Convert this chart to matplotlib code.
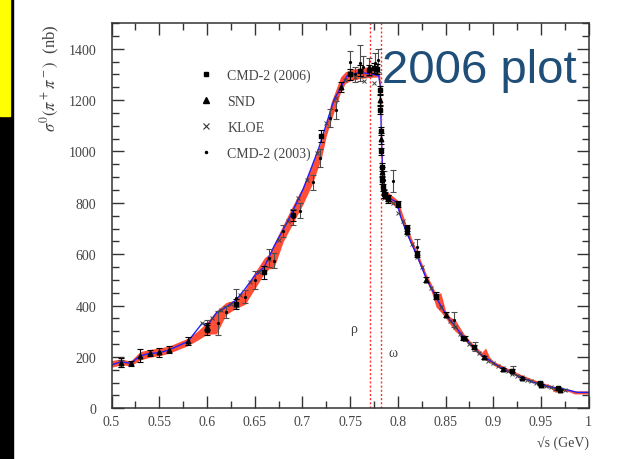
import matplotlib
matplotlib.use('Agg')
import matplotlib.pyplot as plt
from matplotlib.patches import Rectangle
from matplotlib.lines import Line2D
from matplotlib.ticker import MultipleLocator, FuncFormatter

# ---------------- data ----------------

# model band (red): sqrt(s) in GeV, lower / upper edge in nb
band_x = [0.50, 0.51, 0.52, 0.53, 0.54, 0.55, 0.56, 0.58, 0.59, 0.60,
          0.61, 0.62, 0.63, 0.64, 0.65, 0.66, 0.665, 0.67, 0.68, 0.69,
          0.70, 0.71, 0.72, 0.725, 0.73, 0.74, 0.745, 0.75, 0.76, 0.77,
          0.78, 0.7815, 0.783, 0.785, 0.79, 0.80, 0.81, 0.82, 0.83, 0.835,
          0.84, 0.845, 0.85, 0.855, 0.86, 0.865, 0.87, 0.88, 0.888, 0.892,
          0.896, 0.90, 0.91, 0.92, 0.93, 0.94, 0.95, 0.96, 0.965, 0.97,
          0.98, 0.985, 1.00]
band_lo = [160, 169, 166, 188, 199, 205, 214, 244, 265, 288,
           290, 365, 388, 405, 465, 525, 543, 545, 650, 720,
           790, 870, 975, 1060, 1120, 1230, 1265, 1275, 1284, 1288,
           1290, 1230, 980, 815, 810, 775, 670, 585, 495, 455,
           395, 375, 352, 325, 300, 285, 265, 225, 200, 188,
           180, 168, 150, 133, 118, 103, 90, 78, 62, 70,
           64, 56, 56]
band_hi = [186, 192, 184, 221, 229, 235, 242, 273, 300, 335,
           380, 412, 422, 462, 528, 585, 600, 640, 715, 790,
           860, 950, 1040, 1110, 1190, 1290, 1310, 1318, 1325, 1330,
           1332, 1280, 1040, 850, 840, 810, 700, 612, 520, 485,
           445, 450, 380, 355, 345, 315, 285, 245, 218, 235,
           200, 184, 165, 147, 130, 115, 102, 90, 84, 80,
           74, 68, 68]

# fit curve (blue)
fit_x = [0.500, 0.510, 0.520, 0.530, 0.540, 0.550, 0.560, 0.580, 0.595, 0.600,
         0.610, 0.620, 0.630, 0.640, 0.650, 0.660, 0.670, 0.687, 0.701, 0.717,
         0.733, 0.747, 0.760, 0.774, 0.780, 0.7814, 0.7832, 0.785, 0.799, 0.803,
         0.809, 0.820, 0.830, 0.841, 0.851, 0.869, 0.886, 0.907, 0.925, 0.942,
         0.960, 0.974, 0.988, 1.000]
fit_y = [169, 181, 175, 204, 214, 216, 227, 260, 331, 320,
         372, 394, 420, 465, 517, 550, 628, 745, 855, 1011,
         1200, 1295, 1308, 1300, 1295, 1258, 1011, 829, 803, 745,
         686, 595, 504, 426, 361, 277, 212, 160, 127, 101,
         82, 75, 62, 62]

# CMD-2 (2006)
cmd06_x = [0.600, 0.630, 0.660, 0.690, 0.720, 0.750, 0.760, 0.770, 0.775, 0.778,
           0.7812, 0.7818, 0.7822, 0.7826, 0.7830, 0.7835, 0.784, 0.785, 0.787, 0.790,
           0.800, 0.8094, 0.820, 0.840, 0.8688, 0.880, 0.9195, 0.949, 0.968]
cmd06_y = [305, 407, 530, 751, 1060, 1300, 1315, 1318, 1325, 1320,
           1240, 1160, 1080, 1000, 940, 890, 860, 835, 830, 820,
           797, 703, 602, 439, 273, 238, 147, 97, 78]
cmd06_err = [20, 20, 25, 20, 25, 20, 20, 20, 20, 20,
             15, 15, 15, 15, 15, 15, 15, 15, 12, 12,
             12, 12, 12, 12, 8, 8, 6, 5, 5]

# SND
snd_x = [0.510, 0.520, 0.530, 0.540, 0.550, 0.560, 0.580, 0.600, 0.740, 0.7815,
         0.7825, 0.7835, 0.790, 0.810, 0.830, 0.850, 0.870, 0.890, 0.910, 0.930,
         0.950, 0.970]
snd_y = [178, 175, 205, 215, 218, 228, 262, 318, 1250, 1200,
         1050, 920, 815, 690, 500, 365, 272, 198, 152, 118,
         92, 73]
snd_err = [17, 10, 26, 12, 17, 13, 16, 15, 20, 20,
           20, 20, 15, 12, 10, 10, 8, 6, 5, 4,
           4, 3]

# KLOE
kloe_x = [0.595, 0.600, 0.605, 0.615, 0.625, 0.635, 0.645, 0.655, 0.665, 0.675,
          0.685, 0.695, 0.705, 0.715, 0.725, 0.735, 0.745, 0.755, 0.765, 0.775,
          0.785, 0.790, 0.795, 0.800, 0.805, 0.810, 0.815, 0.820, 0.825, 0.830,
          0.835, 0.840, 0.845, 0.850, 0.855, 0.860, 0.865, 0.870, 0.875, 0.880,
          0.885, 0.890, 0.895, 0.900, 0.905, 0.910, 0.915, 0.920, 0.925, 0.930,
          0.935, 0.940, 0.945, 0.950, 0.955, 0.960, 0.965, 0.970, 0.975]
kloe_y = [333, 325, 350, 383, 405, 440, 490, 530, 580, 655,
          730, 820, 890, 995, 1110, 1210, 1280, 1290, 1275, 1265,
          820, 815, 800, 760, 730, 680, 640, 590, 550, 505,
          470, 430, 395, 365, 340, 315, 290, 270, 252, 235,
          215, 200, 185, 175, 165, 155, 145, 135, 127, 120,
          112, 105, 98, 92, 88, 82, 77, 74, 72]

# CMD-2 (2003)
cmd03_x = [0.510, 0.600, 0.612, 0.620, 0.630, 0.640, 0.650, 0.665, 0.670, 0.680,
           0.690, 0.698, 0.711, 0.718, 0.729, 0.735, 0.750, 0.755, 0.760, 0.764,
           0.770, 0.776, 0.779, 0.786, 0.795, 0.820, 0.859, 0.881, 0.921]
cmd03_y = [175, 325, 332, 375, 430, 435, 500, 585, 575, 690,
           745, 770, 880, 975, 1130, 1160, 1350, 1300, 1345, 1330,
           1330, 1345, 1355, 890, 885, 628, 345, 240, 148]
cmd03_err = [15, 20, 45, 25, 35, 25, 35, 35, 30, 25,
             30, 30, 30, 35, 35, 35, 40, 30, 70, 40,
             35, 40, 45, 35, 42, 33, 30, 18, 15]

legend_labels = ['CMD-2 (2006)', 'SND', 'KLOE', 'CMD-2 (2003)']

RHO_MASS = 0.7705
OMEGA_MASS = 0.7826

# ---------------- plot ----------------

plt.rcParams['font.family'] = ['Liberation Serif', 'DejaVu Serif']
plt.rcParams['mathtext.fontset'] = 'stix'
plt.rcParams['font.size'] = 10

fig = plt.figure(figsize=(6.39, 4.60), dpi=100)
ax = fig.add_axes([0.1745, 0.1102, 0.7468, 0.8376])

ax.fill_between(band_x, band_lo, band_hi, color='#ff4d36', lw=0, zorder=1)
ax.plot(fit_x, fit_y, color='#2020ff', lw=1.0, zorder=2)

ax.errorbar(cmd03_x, cmd03_y, yerr=cmd03_err, fmt='o', ms=1.3, color='k',
            ecolor='0.3', elinewidth=0.8, capsize=2, capthick=0.8, zorder=3)
ax.errorbar(snd_x, snd_y, yerr=snd_err, fmt='^', ms=3.3, color='k',
            ecolor='k', elinewidth=0.8, capsize=2, capthick=0.8, zorder=4)
ax.errorbar(cmd06_x, cmd06_y, yerr=cmd06_err, fmt='s', ms=3, color='k',
            ecolor='k', elinewidth=0.8, capsize=2, capthick=0.8, zorder=4)
ax.plot(kloe_x, kloe_y, 'x', ms=3.5, mew=0.7, color='0.25', zorder=3)

for m in (RHO_MASS, OMEGA_MASS):
    ax.axvline(m, color='#ff3030', ls=(0, (1.5, 1.5)), lw=1, zorder=2)

ax.text(0.7532, 309, 'ρ', ha='center', va='center', color='#444444')
ax.text(0.795, 216, 'ω', ha='center', va='center', color='#444444')

ax.set_xlim(0.5, 1.0)
ax.set_ylim(0, 1500)
ax.xaxis.set_major_locator(MultipleLocator(0.05))
ax.xaxis.set_minor_locator(MultipleLocator(0.025))
ax.yaxis.set_major_locator(MultipleLocator(200))
ax.yaxis.set_minor_locator(MultipleLocator(50))
ax.xaxis.set_major_formatter(FuncFormatter(lambda v, p: f'{v:g}'))

ax.tick_params(which='both', direction='in', top=True, right=True,
               color='#333333', labelcolor='#444444', width=1)
ax.tick_params(which='major', length=8.4)
ax.tick_params(which='minor', length=4.8)
ax.tick_params(axis='x', pad=5)
ax.tick_params(axis='y', pad=11)
for s in ax.spines.values():
    s.set_color('#333333')
    s.set_linewidth(1.1)

ax.set_ylabel(r'$\sigma^0(\pi^+\pi^-)$  (nb)', loc='top', color='#444444',
              fontsize=12)
ax.yaxis.set_label_coords(-0.103, 1.0)
ax.set_xlabel('√s (GeV)', loc='right', color='#444444')
ax.xaxis.set_label_coords(1.0, -0.072)

handles = [Line2D([], [], ls='none', marker='s', ms=3.5, color='k'),
           Line2D([], [], ls='none', marker='^', ms=4, color='k'),
           Line2D([], [], ls='none', marker='x', ms=4, mew=0.8, color='0.2'),
           Line2D([], [], ls='none', marker='o', ms=1.5, color='k')]
leg = ax.legend(handles, legend_labels, loc='upper left',
                bbox_to_anchor=(0.184, 0.882), frameon=False,
                handlelength=1.0, handletextpad=1.0, labelspacing=0.92,
                borderpad=0, borderaxespad=0)
for t in leg.get_texts():
    t.set_color('#444444')

fig.text(0.598, 0.8196, '2006 plot', fontsize=34, color='#1f4e79',
         family='Liberation Sans', ha='left', va='baseline')

fig.patches.append(Rectangle((0, 0), 13 / 639, 1, transform=fig.transFigure,
                             color='black', zorder=0))
fig.patches.append(Rectangle((0, 1 - 117 / 460), 10 / 639, 117 / 460,
                             transform=fig.transFigure, color='#ffff00', zorder=1))

fig.savefig('out.png', dpi=100)
